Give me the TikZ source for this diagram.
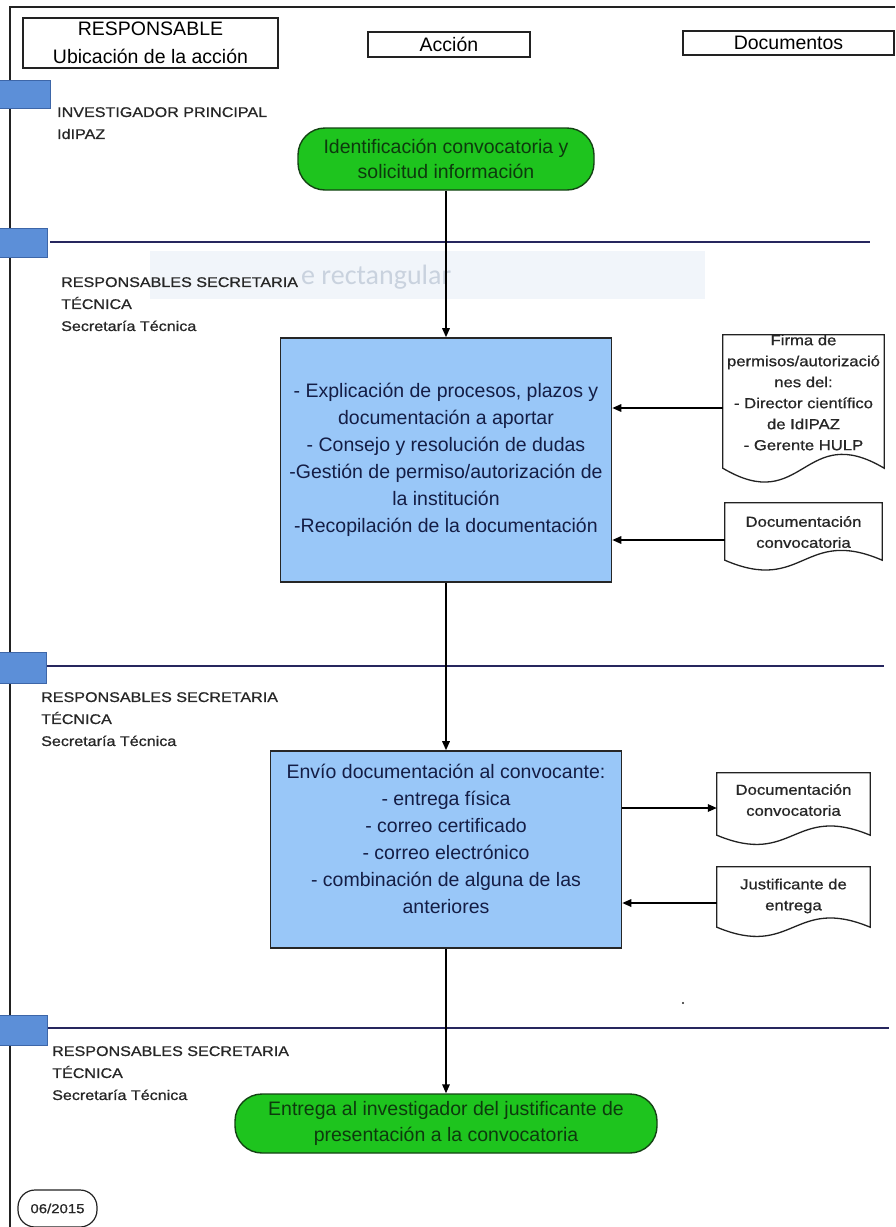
\documentclass[tikz,border=0pt]{standalone}
\usepackage{fontspec}
\setmainfont{Liberation Sans}
\newfontfamily\widesf[FakeStretch=1.15,FakeBold=0.8]{Liberation Sans}
\newfontfamily\ghostsf{Carlito}
\usetikzlibrary{arrows.meta,calc}

\definecolor{framegray}{HTML}{222222}
\definecolor{lanenavy}{HTML}{26265E}
\definecolor{markerblue}{HTML}{5C8FD8}
\definecolor{markeredge}{HTML}{3D66A8}
\definecolor{boxblue}{HTML}{99C7F8}
\definecolor{boxtext}{HTML}{141D45}
\definecolor{termgreen}{HTML}{1EC41E}
\definecolor{termedge}{HTML}{144414}
\definecolor{termtext}{HTML}{0D3A0D}
\definecolor{ghostfill}{HTML}{F1F5FA}
\definecolor{ghosttext}{HTML}{C9D2DE}
\definecolor{labelgray}{HTML}{262626}

\newcommand\hdrfont{\fontsize{19.5}{28}\selectfont}
\newcommand\boxfont{\fontsize{19.5}{27}\selectfont}
\newcommand\termfont{\fontsize{19.5}{25.5}\selectfont}
\newcommand\lanefont{\widesf\fontsize{14}{22}\selectfont}
\newcommand\docfont{\widesf\fontsize{14.5}{21}\selectfont}

% document symbol: flat top, wavy bottom edge
\newcommand\docoutline[2]{%
  \draw[docline] (#1.south west) -- (#1.north west) -- (#1.north east) -- (#1.south east)
    .. controls ($(#1.south)+(0,-#2)$) and ($(#1.south)+(0,#2)$) .. (#1.south west) -- cycle;}

\begin{document}
\begin{tikzpicture}[x=1pt,y=-1pt,
  frameline/.style={draw=framegray, line width=1.8pt},
  laneline/.style={draw=lanenavy, line width=2pt},
  marker/.style={fill=markerblue, draw=markeredge, line width=1pt},
  headbox/.style={draw=framegray, line width=1.4pt, inner sep=0pt, font=\hdrfont, align=center},
  lanelabel/.style={anchor=north west, inner sep=0pt, align=left, text=labelgray, font=\lanefont},
  terminal/.style={draw=termedge, line width=1.4pt, fill=termgreen, rounded corners=27pt,
    inner sep=0pt, align=center, text=termtext, font=\termfont},
  procbox/.style={draw=black!85, line width=1.6pt, fill=boxblue, inner sep=0pt},
  proctext/.style={align=center, inner sep=0pt, text=boxtext, font=\boxfont},
  docbox/.style={inner sep=0pt},
  docline/.style={draw=framegray, line width=1.3pt, fill=white},
  doctext/.style={align=center, inner sep=0pt, text=labelgray, font=\docfont},
  arr/.style={draw=black, line width=1.6pt, -{Triangle[length=9pt,width=7.5pt]}}
]
\useasboundingbox (0,0) rectangle (895,1227);

% faint text frame left behind in the second lane
\node[fill=ghostfill, minimum width=555, minimum height=48, inner sep=0pt] (ghostrect) at (427.5,275) {};
\node[anchor=west, inner sep=0pt, text=ghosttext, font=\ghostsf\fontsize{28}{28}\selectfont] (ghosttxt) at (301,277) {e rectangular};

% outer frame
\draw[frameline] (10,1228) -- (10,7) -- (895,7);

% column headers
\node[headbox, minimum width=255, minimum height=50] (hresp) at (150.5,43) {RESPONSABLE\\Ubicación de la acción};
\node[headbox, minimum width=162, minimum height=25] (hact) at (449,44.5) {Acción};
\node[headbox, minimum width=211, minimum height=24] (hdoc) at (788.5,43) {Documentos};

% lane separators and markers
\draw[laneline] (50,242) -- (870,242);
\draw[laneline] (46,666) -- (884,666);
\draw[laneline] (47,1028) -- (889,1028);
\draw[marker] (-2,80) rectangle (50,108);
\draw[marker] (-2,228) rectangle (47,257);
\draw[marker] (-2,652) rectangle (46,683);
\draw[marker] (-2,1015) rectangle (47,1045);

% lane owners
\node[lanelabel] (lane1) at (57,107) {INVESTIGADOR PRINCIPAL\\IdIPAZ};
\node[lanelabel] (lane2) at (61,277) {RESPONSABLES SECRETARIA\\TÉCNICA\\Secretaría Técnica};
\node[lanelabel] (lane3) at (41,692) {RESPONSABLES SECRETARIA\\TÉCNICA\\Secretaría Técnica};
\node[lanelabel] (lane4) at (52,1046) {RESPONSABLES SECRETARIA\\TÉCNICA\\Secretaría Técnica};

% process
\node[terminal, minimum width=296, minimum height=62] (start) at (446,159)
  {Identificación convocatoria y\\solicitud información};
\node[procbox, minimum width=331, minimum height=244] (act1) at (446,460) {};
\node[proctext] (act1txt) at (446,460)
  {- Explicación de procesos, plazos y\\documentación a aportar\\- Consejo y resolución de dudas\\-Gestión de permiso/autorización de\\la institución\\-Recopilación de la documentación};
\node[procbox, minimum width=351, minimum height=197] (act2) at (446,849.5) {};
\node[proctext] (act2txt) at (446,839)
  {Envío documentación al convocante:\\- entrega física\\- correo certificado\\- correo electrónico\\- combinación de alguna de las\\anteriores};
\node[terminal, minimum width=422, minimum height=59] (finish) at (446,1123.5)
  {Entrega al investigador del justificante de\\presentación a la convocatoria};

\draw[arr] (start.south) -- (act1.north);
\draw[arr] (act1.south) -- (act2.north);
\draw[arr] (act2.south) -- (finish.north);

% documents
\node[docbox, minimum width=161, minimum height=133] (doc1) at (803.5,401.5) {};
\node[docbox, minimum width=157, minimum height=57] (doc2) at (803.5,531.5) {};
\node[docbox, minimum width=153, minimum height=62] (doc3) at (793.5,804) {};
\node[docbox, minimum width=153, minimum height=60] (doc4) at (793.5,897) {};
\docoutline{doc1}{48}
\docoutline{doc2}{34}
\docoutline{doc3}{32}
\docoutline{doc4}{32}
\node[doctext] (doc1txt) at (803.5,392.5)
  {Firma de\\permisos/autorizació\\nes del:\\- Director científico\\de IdIPAZ\\- Gerente HULP};
\node[doctext] (doc2txt) at (803.5,532) {Documentación\\convocatoria};
\node[doctext] (doc3txt) at (793.5,800) {Documentación\\convocatoria};
\node[doctext] (doc4txt) at (793.5,896) {Justificante de\\entrega};

\coordinate (in1) at ([yshift=-6.5pt]doc1.west);
\coordinate (in2) at ([yshift=-8.5pt]doc2.west);
\coordinate (out3) at ([yshift=41.5pt]act2.east);
\coordinate (in4) at ([yshift=-6pt]doc4.west);
\draw[arr] (in1) -- (in1 -| act1.east);
\draw[arr] (in2) -- (in2 -| act1.east);
\draw[arr] (out3) -- (out3 -| doc3.west);
\draw[arr] (in4) -- (in4 -| act2.east);

\fill[framegray] (683,1003) circle (1.1);

% revision date
\node[draw=framegray, line width=1.2pt, rounded corners=17pt, minimum width=79, minimum height=37,
  inner sep=0pt, font=\widesf\fontsize{13}{13}\selectfont, text=labelgray] (date) at (57.5,1208.5) {06/2015};
\end{tikzpicture}
\end{document}
